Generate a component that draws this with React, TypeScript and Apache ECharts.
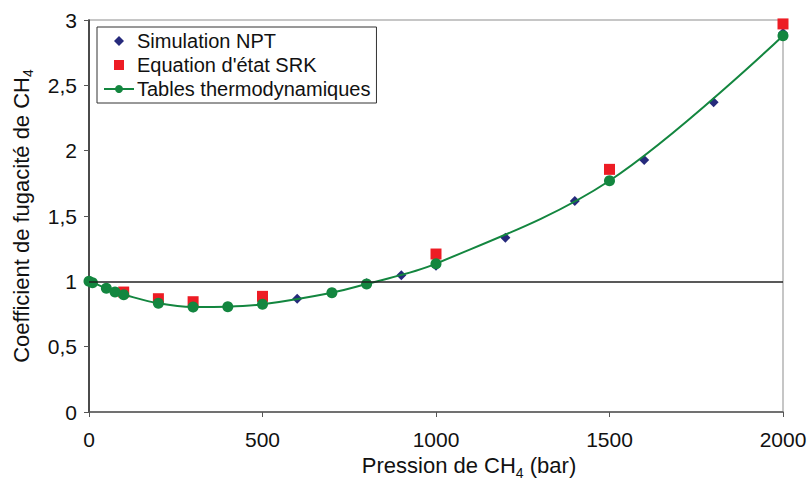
import React, { useEffect, useRef } from "react";
import * as echarts from "echarts";

// Simulation NPT (pressure bar, fugacity coefficient)
const npt: [number, number][] = [
  [300, 0.8], [600, 0.867], [800, 0.985], [900, 1.046], [1000, 1.12],
  [1200, 1.334], [1400, 1.615], [1600, 1.928], [1800, 2.37], [2000, 2.9],
];
// Equation d'état SRK
const srk: [number, number][] = [
  [100, 0.918], [200, 0.867], [300, 0.844], [500, 0.885],
  [1000, 1.209], [1500, 1.857], [2000, 2.97],
];
// Tables thermodynamiques
const tables: [number, number][] = [
  [0, 1.0], [10, 0.99], [50, 0.947], [75, 0.918], [100, 0.898],
  [200, 0.832], [300, 0.804], [400, 0.806], [500, 0.824], [700, 0.913],
  [800, 0.98], [1000, 1.135], [1500, 1.77], [2000, 2.88],
];
const refLine = 1;

const FONT = "'Liberation Sans', Arial, sans-serif";

export default function App() {
  const ref = useRef<HTMLDivElement>(null);
  useEffect(() => {
    if (!ref.current) return;
    const chart = echarts.init(ref.current, undefined, { renderer: "svg" });
    chart.setOption({
      animation: false,
      textStyle: { fontFamily: FONT },
      grid: {
        left: 89, right: 26, top: 20, bottom: 68,
        outerBoundsMode: "none", containLabel: false,
        show: true, borderColor: "#b4b4b4", borderWidth: 1.5,
      },
      legend: {
        left: 97, top: 27, orient: "vertical",
        backgroundColor: "#fff",
        borderColor: "#333", borderWidth: 1,
        padding: [4, 6, 4, 6],
        itemGap: 4, itemWidth: 30, itemHeight: 10,
        symbolKeepAspect: true,
        textStyle: { fontSize: 20, color: "#111", fontFamily: FONT, padding: [0, 0, 0, -2] },
        data: [
          { name: "Simulation NPT", icon: "path://M4,0L8,4L4,8L0,4Z" },
          { name: "Equation d'état SRK", icon: "path://M0,0H9V9H0Z" },
          { name: "Tables thermodynamiques" },
        ],
      },
      xAxis: {
        type: "value", min: 0, max: 2000, interval: 500,
        name: "{a|Pression de CH}{s|4}{a| (bar)}",
        nameLocation: "middle", nameGap: 38,
        nameTextStyle: {
          padding: [0, 0, 0, 66],
          rich: {
            a: { fontSize: 22, color: "#111", fontFamily: FONT, lineHeight: 28 },
            s: { fontSize: 14, color: "#111", fontFamily: FONT, lineHeight: 14, verticalAlign: "bottom" },
          },
        },
        axisLine: { onZero: false, lineStyle: { color: "#555", width: 1.5 } },
        axisTick: { show: true, length: 5, lineStyle: { color: "#555" } },
        axisLabel: {
          fontSize: 21, color: "#111", margin: 17, fontFamily: FONT,
          formatter: (v: number) => String(v),
        },
        splitLine: { show: false },
      },
      yAxis: {
        type: "value", min: 0, max: 3, interval: 0.5,
        name: "{a|Coefficient de fugacité de CH}{s|4}",
        nameLocation: "middle", nameGap: 54, nameRotate: 90,
        nameTextStyle: {
          rich: {
            a: { fontSize: 22, color: "#111", fontFamily: FONT, lineHeight: 28 },
            s: { fontSize: 14, color: "#111", fontFamily: FONT, lineHeight: 14, verticalAlign: "bottom" },
          },
        },
        axisLine: { show: true, onZero: false, lineStyle: { color: "#222", width: 1.5 } },
        axisTick: { show: true, length: 5, lineStyle: { color: "#555" } },
        axisLabel: {
          fontSize: 21, color: "#111", margin: 12, fontFamily: FONT,
          formatter: (v: number) => String(v).replace(".", ","),
        },
        splitLine: { show: false },
      },
      series: [
        {
          name: "Simulation NPT", type: "scatter", data: npt,
          symbol: "diamond", symbolSize: 10,
          itemStyle: { color: "#262a7c", opacity: 1 }, z: 2,
          markLine: {
            silent: true, symbol: "none", label: { show: false },
            lineStyle: { color: "#222", width: 1.5, type: "solid" },
            data: [{ yAxis: refLine }],
          },
        },
        {
          name: "Equation d'état SRK", type: "scatter", data: srk,
          symbol: "rect", symbolSize: 11,
          itemStyle: { color: "#ed1c24", opacity: 1 }, z: 3,
        },
        {
          name: "Tables thermodynamiques", type: "line", data: tables,
          smooth: 0.35, symbol: "circle", symbolSize: 11, showSymbol: true,
          lineStyle: { color: "#13863f", width: 2 },
          itemStyle: { color: "#13863f" }, z: 4,
        },
      ],
    });
    return () => chart.dispose();
  }, []);
  return <div ref={ref} style={{ width: 809, height: 480, position: "absolute", left: 0, top: 0 }} />;
}
